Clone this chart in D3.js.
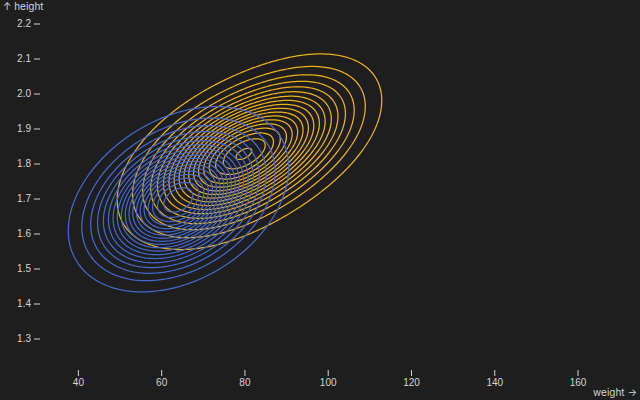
<!DOCTYPE html>
<html><head><meta charset="utf-8">
<script src="https://cdn.jsdelivr.net/npm/d3@7"></script>
<style>
html,body{margin:0;padding:0;background:#1e1e1e;}
svg{display:block;background:#1e1e1e;font-family:Inter,"Noto Sans",sans-serif;font-size:10px;}
</style></head>
<body>
<svg id="chart" width="640" height="400"></svg>
<script>
// ---- data ----
const sexes = ["male", "female"];          // drawing order (male first)
const colors = ["#efb118", "#4269d0"];
// density components (two per sex: a core and a heavier tail)
const compSex    = [0, 0, 1, 1];
const compWeight = [75.5, 89.2, 62.6, 66.9];     // kg
const compHeight = [1.800, 1.886, 1.672, 1.740]; // m
const compSdW    = [11.4, 11.4, 10.6, 10.6];     // kg
const compSdH    = [0.107, 0.107, 0.103, 0.103]; // m
const compCorr   = [0.43, 0.43, 0.3, 0.3];
const compAmp    = [1.0, 0.62, 1.0, 0.58];
const xTicks = [40, 60, 80, 100, 120, 140, 160];
const yTicks = [1.3, 1.4, 1.5, 1.6, 1.7, 1.8, 1.9, 2.0, 2.1, 2.2];
const xDomain = [30.9, 170.2];
const yDomain = [1.21, 2.21];
const nThresholds = 20;

const W = 640, H = 400, mL = 40, mR = 20, mT = 20, mB = 30;
const svg = d3.select("#chart");
const x = d3.scaleLinear().domain(xDomain).range([mL, W - mR]);
const y = d3.scaleLinear().domain(yDomain).range([H - mB, mT]);
const textColor = "#d4d4d4";

// density grids (pixel space)
const cell = 2, n = Math.ceil(W / cell), m = Math.ceil(H / cell);
const grids = sexes.map(() => new Float64Array(n * m));
compSex.forEach((k, c) => {
  const v = grids[k];
  const r = compCorr[c], q = 1 - r * r;
  for (let j = 0; j < m; j++) {
    const zy = (y.invert((j + 0.5) * cell) - compHeight[c]) / compSdH[c];
    for (let i = 0; i < n; i++) {
      const zx = (x.invert((i + 0.5) * cell) - compWeight[c]) / compSdW[c];
      v[j * n + i] += compAmp[c] * Math.exp(-(zx * zx - 2 * r * zx * zy + zy * zy) / (2 * q));
    }
  }
});
const maxV = d3.max(grids, g => d3.max(g));
const thresholds = d3.range(1, nThresholds).map(t => maxV * t / nThresholds);

const path = d3.geoPath(d3.geoIdentity().scale(cell));
const gC = svg.append("g").attr("fill", "none").attr("stroke-width", 1.25).attr("stroke-linejoin","round");
sexes.forEach((s, k) => {
  const cs = d3.contours().size([n, m]).thresholds(thresholds)(grids[k]);
  gC.append("g").attr("stroke", colors[k])
    .selectAll("path").data(cs.filter(c => c.coordinates.length)).join("path")
    .attr("d", path);
});

// x axis
const gx = svg.append("g").attr("transform", `translate(0,${H - mB})`)
  .call(d3.axisBottom(x).tickValues(xTicks).tickSize(6).tickPadding(3).tickFormat(d3.format("d")));
gx.select(".domain").remove();
gx.selectAll("line").attr("stroke", textColor);
gx.selectAll("text").attr("fill", textColor).attr("font-size", 10).attr("font-family", null);
svg.append("text").attr("x", W - 3).attr("y", H - 4).attr("text-anchor", "end")
  .attr("fill", textColor).text("weight →");

// y axis
const gy = svg.append("g").attr("transform", `translate(${mL},0)`)
  .call(d3.axisLeft(y).tickValues(yTicks).tickSize(6).tickPadding(3).tickFormat(d3.format(".1f")));
gy.select(".domain").remove();
gy.selectAll("line").attr("stroke", textColor);
gy.selectAll("text").attr("fill", textColor).attr("font-size", 10).attr("font-family", null);
svg.append("text").attr("x", 3).attr("y", 10)
  .attr("fill", textColor).text("↑ height");
</script>
</body></html>
